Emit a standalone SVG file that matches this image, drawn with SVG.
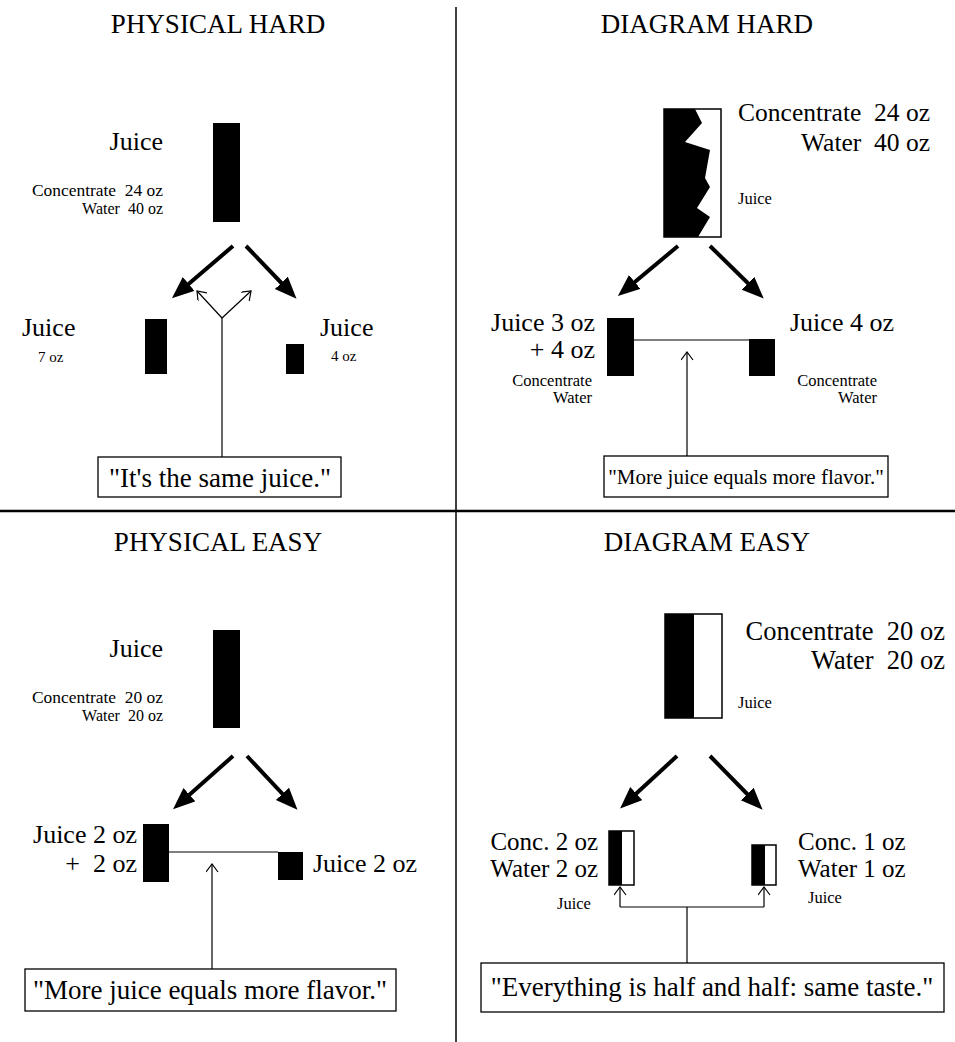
<svg xmlns="http://www.w3.org/2000/svg" width="955" height="1042" viewBox="0 0 955 1042">
<style>
text{font-family:"Liberation Serif","Times New Roman",serif;fill:#000;white-space:pre}
.title{font-size:27px;text-anchor:middle}
.big{font-size:26px}
.conc{font-size:25px}
.mid{font-size:25.5px}
.mid2{font-size:26.5px}
.sm{font-size:16px}
.xs{font-size:15px}
.lbl{font-size:16.5px}
.end{text-anchor:end}
.quote{font-size:27px;text-anchor:middle}
.quote2{font-size:21px;text-anchor:middle}
.blk{fill:#000}
.box{fill:#fff;stroke:#000;stroke-width:1.3}
.cont{fill:#fff;stroke:#000;stroke-width:1.5}
.thick{stroke:#000;stroke-width:4;fill:none;marker-end:url(#fat)}
.thin{stroke:#000;stroke-width:1.2;fill:none}
.thinA{stroke:#000;stroke-width:1.2;fill:none;marker-end:url(#open)}
.div{stroke:#000;fill:none}
</style>
<defs>
<marker id="fat" markerUnits="userSpaceOnUse" markerWidth="24" markerHeight="20" refX="14" refY="9" orient="auto">
<path d="M0,0 L22,9 L0,18 z" fill="#000"/>
</marker>
<marker id="open" markerUnits="userSpaceOnUse" markerWidth="12" markerHeight="14" refX="9" refY="6" orient="auto">
<path d="M1,0 L9,6 L1,12" fill="none" stroke="#000" stroke-width="1.2"/>
</marker>
</defs>

<g id="dividers">
<line class="div" x1="456" y1="7" x2="456" y2="1042" stroke-width="1.5"/>
<line class="div" x1="0" y1="511" x2="955" y2="511" stroke-width="2.5"/>
</g>

<g id="titles">
<text class="title" x="218" y="33">PHYSICAL HARD</text>
<text class="title" x="707" y="33">DIAGRAM HARD</text>
<text class="title" x="218" y="551">PHYSICAL EASY</text>
<text class="title" x="707" y="551">DIAGRAM EASY</text>
</g>

<!-- PHYSICAL HARD -->
<g id="ph-source">
<text class="big end" x="163" y="150">Juice</text>
<text class="sm end" x="163" y="196" textLength="131" lengthAdjust="spacingAndGlyphs">Concentrate  24 oz</text>
<text class="sm end" x="163" y="214">Water  40 oz</text>
<rect class="blk" x="213" y="123" width="27" height="99"/>
</g>
<g id="ph-left">
<text class="big" x="22" y="336">Juice</text>
<text class="xs" x="38" y="362">7 oz</text>
<rect class="blk" x="145" y="319" width="22" height="55"/>
</g>
<g id="ph-right">
<text class="big" x="320" y="336">Juice</text>
<text class="xs" x="331" y="361">4 oz</text>
<rect class="blk" x="286" y="344" width="18" height="30"/>
</g>
<g id="ph-quote">
<rect class="box" x="98" y="457" width="243" height="40"/>
<text class="quote" x="220" y="487">"It's the same juice."</text>
</g>

<!-- DIAGRAM HARD -->
<g id="dh-source">
<rect class="cont" x="664" y="109" width="57" height="128"/>
<polygon class="blk" points="664,109 695,109 702,123 685,142 710,150 705,178 710,187 697,208 710,217 698,237 664,237"/>
<text class="mid end" x="930" y="121">Concentrate  24 oz</text>
<text class="mid end" x="930" y="151">Water  40 oz</text>
<text class="lbl" x="738" y="204">Juice</text>
</g>
<g id="dh-left">
<text class="big end" x="595" y="331">Juice 3 oz</text>
<text class="big end" x="595" y="358">+ 4 oz</text>
<text class="lbl end" x="592" y="386">Concentrate</text>
<text class="lbl end" x="592" y="403">Water</text>
<rect class="blk" x="607" y="318" width="27" height="58"/>
</g>
<g id="dh-right">
<text class="big" x="790" y="331">Juice 4 oz</text>
<text class="lbl end" x="877" y="386">Concentrate</text>
<text class="lbl end" x="877" y="403">Water</text>
<rect class="blk" x="749" y="339" width="26" height="37"/>
</g>
<g id="dh-quote">
<rect class="box" x="604" y="456" width="284" height="41"/>
<text class="quote2" x="746" y="484">"More juice equals more flavor."</text>
</g>

<!-- PHYSICAL EASY -->
<g id="pe-source">
<text class="big end" x="163" y="657">Juice</text>
<text class="sm end" x="163" y="703" textLength="131" lengthAdjust="spacingAndGlyphs">Concentrate  20 oz</text>
<text class="sm end" x="163" y="721">Water  20 oz</text>
<rect class="blk" x="213" y="630" width="27" height="98"/>
</g>
<g id="pe-left">
<text class="big end" x="137" y="843">Juice 2 oz</text>
<text class="big end" x="137" y="872">+  2 oz</text>
<rect class="blk" x="143" y="824" width="26" height="58"/>
</g>
<g id="pe-right">
<text class="big" x="313" y="872">Juice 2 oz</text>
<rect class="blk" x="278" y="852" width="25" height="28"/>
</g>
<g id="pe-quote">
<rect class="box" x="25" y="969" width="371" height="42"/>
<text class="quote" x="210" y="999">"More juice equals more flavor."</text>
</g>

<!-- DIAGRAM EASY -->
<g id="de-source">
<rect class="cont" x="665" y="614" width="57" height="104"/>
<rect class="blk" x="665" y="614" width="29" height="104"/>
<text class="mid2 end" x="945" y="640">Concentrate  20 oz</text>
<text class="mid2 end" x="945" y="669">Water  20 oz</text>
<text class="lbl" x="738" y="708">Juice</text>
</g>
<g id="de-left">
<text class="conc end" x="598" y="850">Conc. 2 oz</text>
<text class="conc end" x="598" y="877">Water 2 oz</text>
<text class="lbl" x="557" y="909">Juice</text>
<rect class="cont" x="609" y="831" width="25" height="54"/>
<rect class="blk" x="609" y="831" width="13" height="54"/>
</g>
<g id="de-right">
<text class="conc" x="798" y="850">Conc. 1 oz</text>
<text class="conc" x="798" y="877">Water 1 oz</text>
<text class="lbl" x="808" y="903">Juice</text>
<rect class="cont" x="752" y="845" width="24" height="40"/>
<rect class="blk" x="752" y="845" width="13" height="40"/>
</g>
<g id="de-quote">
<rect class="box" x="481" y="963" width="463" height="49"/>
<text class="quote" x="712" y="996">"Everything is half and half: same taste."</text>
</g>

<g id="connectors">
<line class="thick" x1="233" y1="246" x2="178" y2="293"/>
<line class="thick" x1="246" y1="246" x2="291" y2="293"/>
<line class="thick" x1="678" y1="246" x2="624" y2="291"/>
<line class="thick" x1="710" y1="246" x2="758" y2="293"/>
<line class="thick" x1="233" y1="756" x2="179" y2="804"/>
<line class="thick" x1="247" y1="756" x2="292" y2="804"/>
<line class="thick" x1="677" y1="756" x2="626" y2="803"/>
<line class="thick" x1="710" y1="756" x2="757" y2="804"/>
<line class="thin" x1="222" y1="457" x2="222" y2="318"/>
<line class="thinA" x1="222" y1="318" x2="197" y2="291"/>
<line class="thinA" x1="222" y1="318" x2="251" y2="291"/>
<line class="thin" x1="634" y1="340" x2="749" y2="340" stroke-width="2"/>
<line class="thinA" x1="687" y1="456" x2="687" y2="352"/>
<line class="thin" x1="169" y1="852" x2="278" y2="852" stroke-width="2"/>
<line class="thinA" x1="212" y1="969" x2="212" y2="864"/>
<path class="thin" d="M620,907 L764,907 M687,907 L687,963" stroke="#444"/>
<line class="thinA" x1="620" y1="907" x2="620" y2="887"/>
<line class="thinA" x1="764" y1="907" x2="764" y2="887"/>
</g>
</svg>
